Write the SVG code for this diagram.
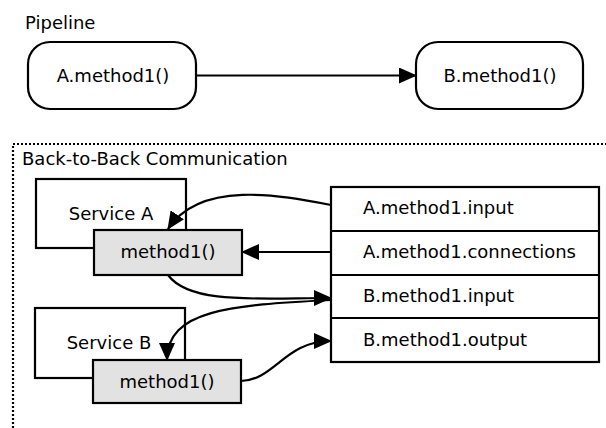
<svg xmlns="http://www.w3.org/2000/svg" width="606" height="428" viewBox="0 0 606 428">
<style>
text{font-family:"DejaVu Sans","Liberation Sans",sans-serif;font-size:18px;fill:#000}
.c{text-anchor:middle}
.box{fill:#fff;stroke:#000;stroke-width:2.2}
.gray{fill:#e2e2e2;stroke:#000;stroke-width:2.2}
.edge{fill:none;stroke:#000;stroke-width:2.2;marker-end:url(#arr)}
.frame{fill:none;stroke:#000;stroke-width:2.2;stroke-dasharray:2 2}
</style>
<defs>
<marker id="arr" markerUnits="userSpaceOnUse" markerWidth="18" markerHeight="16" refX="17" refY="8" orient="auto">
<path d="M0,0 L18,8 L0,16 z" fill="#000"/>
</marker>
</defs>
<text x="25" y="29">Pipeline</text>
<g id="pipeA"><rect class="box" x="28" y="42" width="168" height="67" rx="22"/><text class="c" x="113" y="82">A.method1()</text></g>
<g id="pipeB"><rect class="box" x="416" y="42" width="167" height="67" rx="22"/><text class="c" x="500" y="82">B.method1()</text></g>
<g id="frame"><path class="frame" d="M13,428 V144 H606"/><text x="22" y="165">Back-to-Back Communication</text></g>
<g id="serviceA"><rect class="box" x="36" y="179" width="150" height="69"/><text class="c" x="111" y="220">Service A</text></g>
<g id="methodA"><rect class="gray" x="94" y="230" width="148" height="45"/><text class="c" x="168" y="258">method1()</text></g>
<g id="serviceB"><rect class="box" x="35" y="308" width="150" height="70"/><text class="c" x="109" y="349">Service B</text></g>
<g id="methodB"><rect class="gray" x="93" y="360" width="148" height="43"/><text class="c" x="167" y="388">method1()</text></g>
<g id="table">
<rect class="box" x="331" y="187" width="268" height="175"/>
<path d="M331,231 H599 M331,275 H599 M331,318 H599" stroke="#000" stroke-width="2.2"/>
<text x="363" y="214">A.method1.input</text>
<text x="363" y="258">A.method1.connections</text>
<text x="363" y="302">B.method1.input</text>
<text x="363" y="346">B.method1.output</text>
</g>
<g id="connectors">
<path class="edge" d="M196,75.5 L416,75.5"/>
<path class="edge" d="M331,205 C280,195 200,180 168,229"/>
<path class="edge" d="M331,252 L242,252"/>
<path class="edge" d="M168,275 C190,305 260,298 331,298"/>
<path class="edge" d="M331,300 C230,305 167,310 167,360"/>
<path class="edge" d="M241,381 C275,380 285,341 331,341"/>
</g>
</svg>
